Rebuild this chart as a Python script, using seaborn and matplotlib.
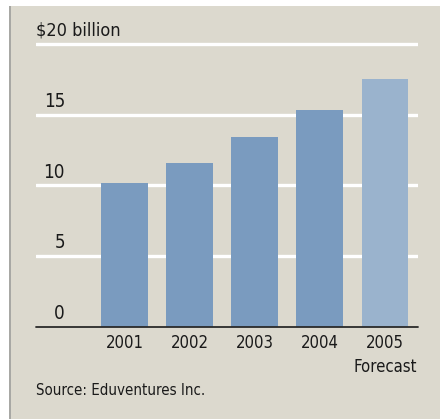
import matplotlib
matplotlib.use("Agg")
import matplotlib.pyplot as plt
import matplotlib.transforms as mtransforms
from matplotlib import font_manager
from matplotlib.patches import Rectangle
import seaborn as sns
import pandas as pd

years = ["2001", "2002", "2003", "2004", "2005"]
xlabels = ["2001", "2002", "2003", "2004", "2005\nForecast"]
values = [10.2, 11.6, 13.45, 15.35, 17.5]
bar_colors = ["#7a9bbf", "#7a9bbf", "#7a9bbf", "#7a9bbf", "#9ab3cd"]
yticks = [0, 5, 10, 15, 20]
ytick_labels = ["0", "5", "10", "15", "$20 billion"]
source = "Source: Eduventures Inc."

sns.set_theme(style="white")

# pick a narrow font if available
names = {f.name: f for f in font_manager.fontManager.ttflist}
stretch = "normal"
if "Liberation Sans Narrow" in names:
    FONT = ["Liberation Sans Narrow", "DejaVu Sans"]
else:
    FONT = ["DejaVu Sans"]
    if any(f.name == "DejaVu Sans" and str(f.stretch) in ("condensed", "semi-condensed")
           for f in font_manager.fontManager.ttflist):
        stretch = "condensed"
plt.rcParams["font.family"] = FONT
plt.rcParams["font.stretch"] = stretch

W, H = 440, 419
fig = plt.figure(figsize=(W / 100, H / 100), dpi=100, facecolor="white")

# beige panel and left border
fig.patches.append(Rectangle((10 / W, 0), 1 - 10 / W, 1 - 6 / H, transform=fig.transFigure,
                             facecolor="#dcd9ce", edgecolor="none", zorder=-5))
fig.patches.append(Rectangle((8.5 / W, 0), 2 / W, 1 - 6 / H, transform=fig.transFigure,
                             facecolor="#a8a8a4", edgecolor="none", zorder=-5))

ax_left, ax_right = 36, 418
y0_px, y20_px = 327, 44
ppu = (y0_px - y20_px) / 20.0
ytop = 20.6
top_px = y0_px - ytop * ppu
ax = fig.add_axes([ax_left / W, (H - y0_px) / H, (ax_right - ax_left) / W, (y0_px - top_px) / H])
ax.set_facecolor("none")
ax.set_zorder(2)

df = pd.DataFrame({"year": years, "value": values})
sns.barplot(data=df, x="year", y="value", hue="year", palette=bar_colors, legend=False,
            width=0.72, saturation=1, linewidth=0, edgecolor="none", ax=ax, zorder=3)

spacing = 65.1
xl = -(124.5 - ax_left) / spacing
xr = 4 + (ax_right - 385) / spacing
ax.set_xlim(xl, xr)
ax.set_ylim(0, ytop)

for v in yticks[1:]:
    ax.axhline(v, color="white", lw=2.4, zorder=1)
ax.axhline(0, color="#2a2a2a", lw=1.3, zorder=4, clip_on=False)

for s in ax.spines.values():
    s.set_visible(False)
ax.set_yticks([])
ax.set_xlabel("")
ax.set_ylabel("")
ax.set_xticks(range(len(years)))
ax.set_xticklabels(xlabels, fontsize=12, color="#1a1a1a", linespacing=1.45,
                   multialignment="center", family=FONT, stretch=stretch)
ax.tick_params(axis="x", length=0, pad=5)

trans = mtransforms.blended_transform_factory(ax.transAxes, ax.transData)
off = mtransforms.offset_copy(trans, fig=fig, x=0, y=4, units="dots")
for v, lab in zip(yticks, ytick_labels):
    if v == 20:
        ax.text(0.0, v, lab, transform=off, ha="left", va="bottom", fontsize=13,
                color="#1a1a1a", family=FONT, stretch=stretch)
    else:
        ax.text((65 - ax_left) / (ax_right - ax_left), v, lab, transform=off, ha="right",
                va="bottom", fontsize=13.5, color="#1a1a1a", family=FONT, stretch=stretch)

fig.text(36 / W, 1 - 390 / H, source, ha="left", va="center", fontsize=10.8,
         color="#1a1a1a", family=FONT, stretch=stretch)

fig.savefig("out.png", dpi=100, facecolor="white")
